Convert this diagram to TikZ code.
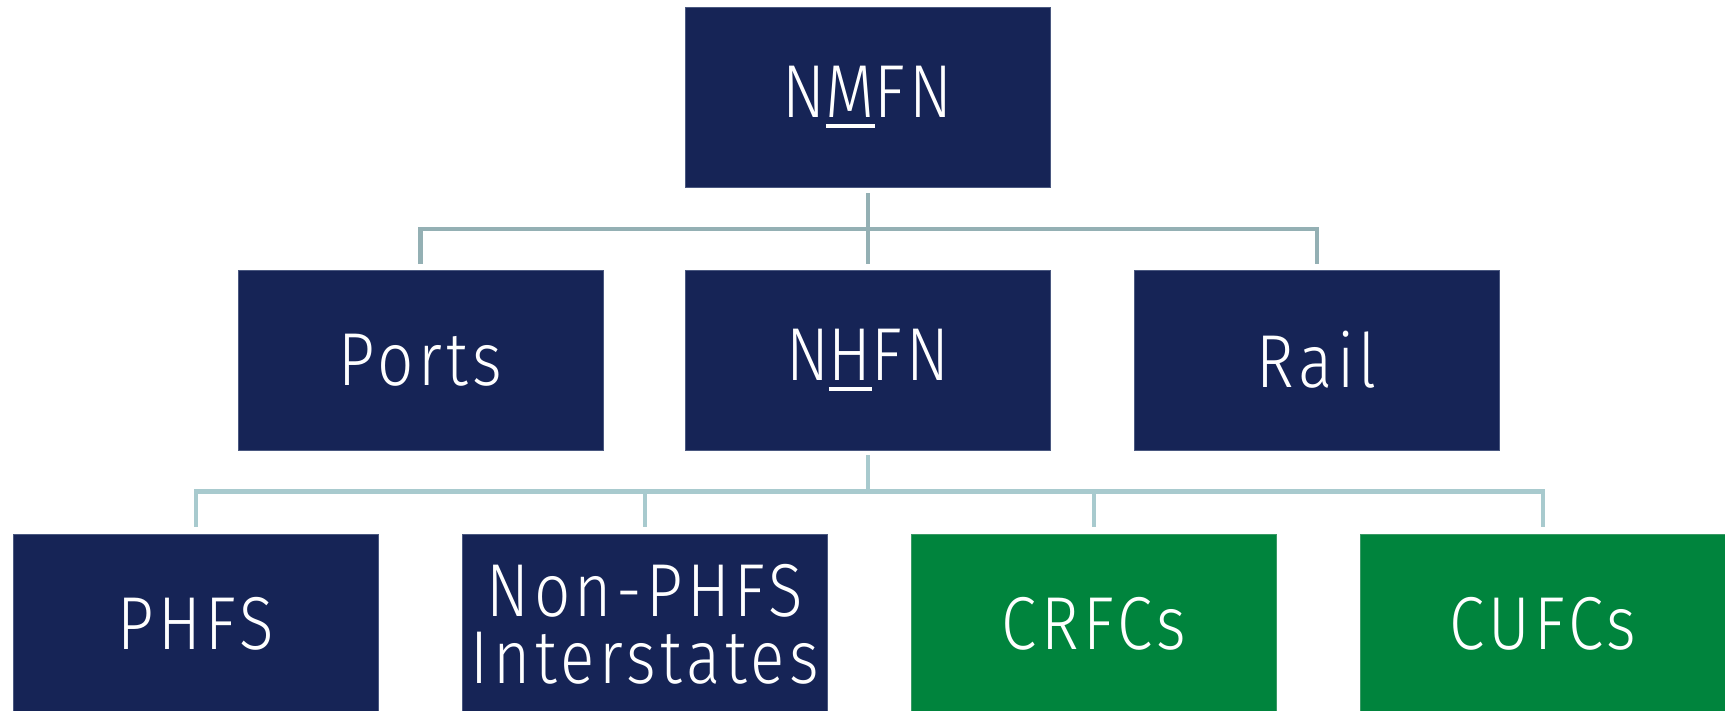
\documentclass[tikz,border=0pt]{standalone}
\usepackage{fontspec}
\setmainfont{Fira Sans}[UprightFont=* Light, FakeStretch=0.85, LetterSpace=6]
\definecolor{navy}{HTML}{162456}
\definecolor{boxedge}{HTML}{4A5880}
\definecolor{fgreen}{HTML}{00843D}
\definecolor{gedge}{HTML}{3A9A66}
\definecolor{lineA}{HTML}{94B0B4}
\definecolor{lineB}{HTML}{A8CACE}
\newcommand\myul[1]{\setbox0=\hbox{#1}\rlap{\rule[-11pt]{\wd0}{4.5pt}}\box0}
\begin{document}
\begin{tikzpicture}[x=1pt,y=-1pt]
\tikzset{
  box/.style={fill=navy, draw=boxedge, line width=0.8pt, minimum width=365pt, minimum height=180pt,
    inner sep=0pt, text=white, font=\fontsize{75}{67}\selectfont, align=center, anchor=north west},
  gbox/.style={box, fill=fgreen, draw=gedge},
  connA/.style={draw=lineA, line width=4.4pt},
  connB/.style={draw=lineB, line width=4.4pt},
}
\useasboundingbox (0,0) rectangle (1725,710);
\node[box] (NMFN) at (685,6.6) {N\myul{M}FN};
\node[box] (Ports) at (237.6,269.5) {Ports};
\node[box] (NHFN) at (685,269.5) {N\myul{H}FN};
\node[box] (Rail) at (1134,269.5) {Rail};
\node[box] (PHFS) at (13,533.5) {PHFS};
\node[box] (NonPHFS) at (462,533.5) {Non-PHFS\\Interstates};
\node[gbox] (CRFCs) at (911,533.5) {CRFCs};
\node[gbox] (CUFCs) at (1360,533.5) {CUFCs};
% upper connectors
\coordinate (b1) at ([yshift=-41.5pt]NMFN.south);
\draw[connA] ([yshift=-6pt]NMFN.south) -- ([yshift=5.5pt]NHFN.north);
\draw[connA] ([yshift=5.5pt]Ports.north) |- (b1) -| ([yshift=5.5pt]Rail.north);
% lower connectors
\coordinate (b2) at ([yshift=-41pt]NHFN.south);
\draw[connB] ([yshift=-5pt]NHFN.south) -- (b2);
\draw[connB] ([yshift=7pt]PHFS.north) |- (b2) -| ([yshift=7pt]CUFCs.north);
\draw[connB] ([yshift=7pt]NonPHFS.north) -- (NonPHFS.north |- b2);
\draw[connB] ([yshift=7pt]CRFCs.north) -- (CRFCs.north |- b2);
\end{tikzpicture}
\end{document}
